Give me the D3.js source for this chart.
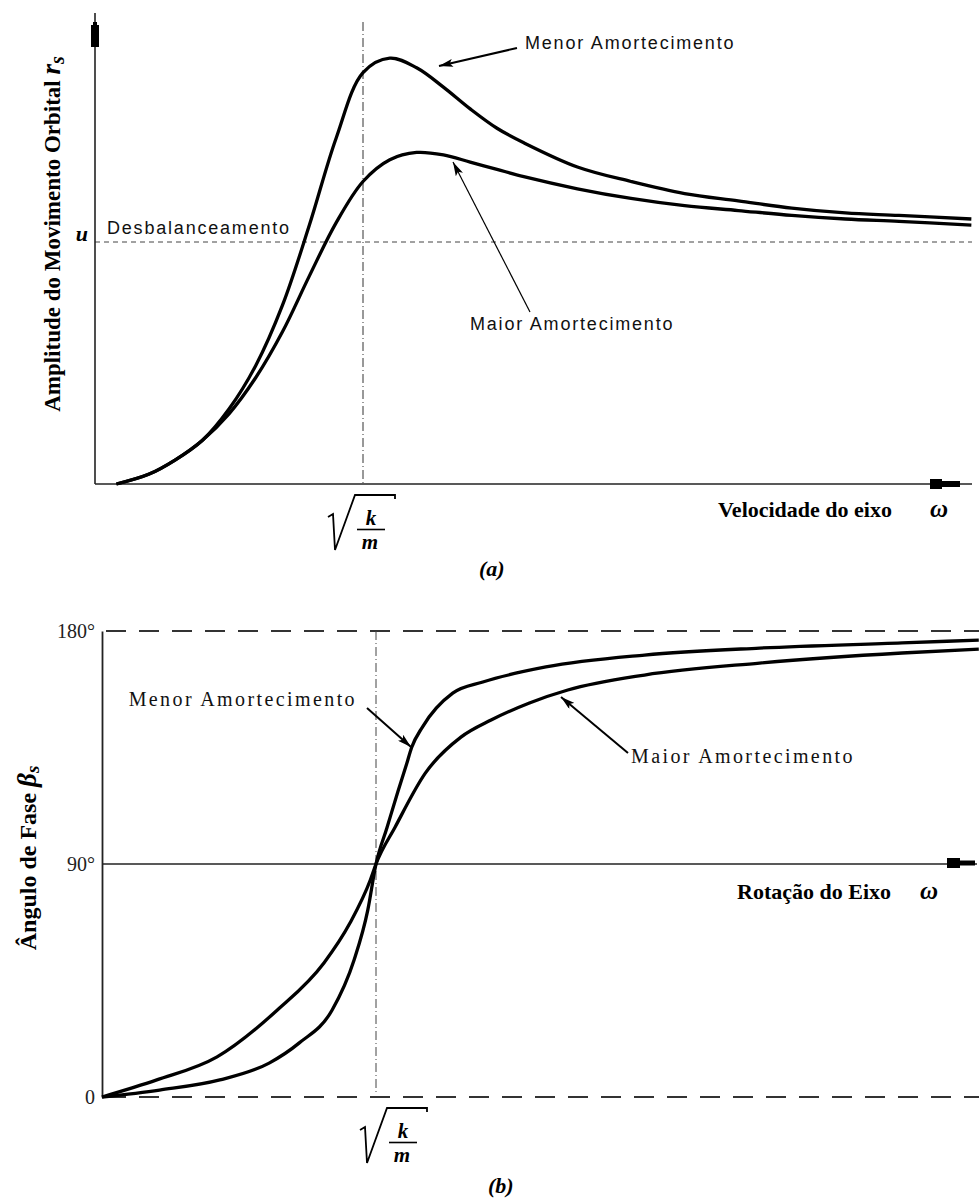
<!DOCTYPE html>
<html>
<head>
<meta charset="utf-8">
<script src="https://cdn.jsdelivr.net/npm/d3@7"></script>
<style>
body { margin: 0; background: #fff; }
svg { display: block; }
</style>
</head>
<body>
<svg id="chart" width="979" height="1198"></svg>
<script>
// (a) amplitude vs shaft speed; speed in units of sqrt(k/m), amplitude in units of u
var omegaA = [0.08, 0.2, 0.3, 0.4, 0.5, 0.6, 0.7, 0.8, 0.9, 1.0, 1.1, 1.2, 1.3, 1.4, 1.5, 1.6, 1.8, 2.0, 2.2, 2.4, 2.6, 2.8, 3.0, 3.27];
var menorA = [0, 0.04, 0.10, 0.18, 0.31, 0.49, 0.74, 1.07, 1.43, 1.70, 1.76, 1.72, 1.64, 1.55, 1.47, 1.41, 1.31, 1.25, 1.20, 1.17, 1.14, 1.12, 1.11, 1.095];
var maiorA = [0, 0.04, 0.10, 0.18, 0.29, 0.44, 0.63, 0.86, 1.08, 1.25, 1.34, 1.37, 1.36, 1.33, 1.30, 1.27, 1.22, 1.18, 1.15, 1.13, 1.11, 1.095, 1.085, 1.07];

// (b) phase angle (degrees) vs shaft rotation
var omegaMenorB = [0, 0.21, 0.43, 0.61, 0.72, 0.84, 0.92, 0.97, 1.0, 1.04, 1.08, 1.11, 1.13, 1.17, 1.28, 1.39, 1.62, 1.98, 2.40, 2.92, 3.2];
var menorB = [0, 2.7, 6.6, 13.1, 20.9, 33.6, 52.9, 72.2, 90, 104, 118, 128, 135, 143, 156, 160.3, 166.1, 170.7, 173.4, 175.4, 176.5];
var omegaMaiorB = [0, 0.2, 0.42, 0.64, 0.81, 0.905, 0.98, 1.0, 1.07, 1.18, 1.31, 1.42, 1.56, 1.70, 1.98, 2.40, 2.92, 3.2];
var maiorB = [0, 6.6, 15.5, 33.6, 51.8, 67.2, 84, 90, 104.3, 125.1, 139, 145.6, 152.2, 157.2, 163, 167.6, 171.5, 173];

var phaseTicks = [0, 90, 180];
var phaseLabels = ["0", "90°", "180°"];

var svg = d3.select("#chart");
var serif = "'Liberation Serif', 'Times New Roman', serif";
var sans = "'Liberation Sans', Arial, sans-serif";

svg.append("rect").attr("width", 979).attr("height", 1198).attr("fill", "#fff");

var defs = svg.append("defs");
defs.append("marker")
	.attr("id", "head")
	.attr("markerUnits", "userSpaceOnUse")
	.attr("viewBox", "0 0 14 8")
	.attr("refX", 14).attr("refY", 4)
	.attr("markerWidth", 15).attr("markerHeight", 8)
	.attr("orient", "auto")
	.append("path").attr("d", "M0,0 L14,4 L0,8 L3,4 Z").attr("fill", "#000");

// ---------------- chart (a) ----------------
var xA = d3.scaleLinear().domain([0, 1]).range([95, 363]);
var yA = d3.scaleLinear().domain([0, 1]).range([484, 242]);
var gA = svg.append("g");

// unbalance level
gA.append("line")
	.attr("x1", xA(0)).attr("x2", 972)
	.attr("y1", yA(1)).attr("y2", yA(1))
	.attr("stroke", "#444").attr("stroke-width", 1)
	.attr("stroke-dasharray", "5,4");

// natural frequency line
gA.append("line")
	.attr("x1", xA(1)).attr("x2", xA(1))
	.attr("y1", 22).attr("y2", yA(0))
	.attr("stroke", "#333").attr("stroke-width", 1)
	.attr("stroke-dasharray", "9,3,1,3");

// axes
gA.append("line").attr("x1", xA(0)).attr("x2", xA(0)).attr("y1", 13).attr("y2", yA(0))
	.attr("stroke", "#222").attr("stroke-width", 1.6);
gA.append("line").attr("x1", xA(0)).attr("x2", 972).attr("y1", yA(0)).attr("y2", yA(0))
	.attr("stroke", "#222").attr("stroke-width", 1.6);
// arrow tails
gA.append("path").attr("d", "M93,22 L97,22 L97,25 L99,25 L99,47 L91,47 L91,25 L93,25 Z").attr("fill", "#000");
gA.append("path").attr("d", "M930,479 L942,479 L942,481 L960,481 L960,487 L942,487 L942,489 L930,489 Z").attr("fill", "#000");

var axA = gA.append("g")
	.attr("transform", "translate(" + xA(0) + ",0)")
	.call(d3.axisLeft(yA).tickValues([1]).tickFormat(function() { return "u"; }).tickSize(0).tickPadding(7));
axA.select(".domain").remove();
axA.selectAll("text")
	.attr("font-family", serif).attr("font-size", 22).attr("font-weight", "bold").attr("font-style", "italic")
	.attr("dy", "-0.05em").attr("fill", "#000");

var lineA = d3.line()
	.x(function(d) { return xA(d[0]); })
	.y(function(d) { return yA(d[1]); })
	.curve(d3.curveCatmullRom.alpha(0.5));

gA.append("path").datum(d3.zip(omegaA, maiorA)).attr("d", lineA)
	.attr("fill", "none").attr("stroke", "#000").attr("stroke-width", 3.3);
gA.append("path").datum(d3.zip(omegaA, menorA)).attr("d", lineA)
	.attr("fill", "none").attr("stroke", "#000").attr("stroke-width", 3.3);

// annotations
gA.append("text").attr("x", 107).attr("y", 234).text("Desbalanceamento")
	.attr("font-family", sans).attr("font-size", 18).attr("letter-spacing", 1.8).attr("fill", "#111");
gA.append("text").attr("x", 525).attr("y", 49).text("Menor Amortecimento")
	.attr("font-family", sans).attr("font-size", 18).attr("letter-spacing", 1.8).attr("fill", "#111");
gA.append("text").attr("x", 470).attr("y", 330).text("Maior Amortecimento")
	.attr("font-family", sans).attr("font-size", 18).attr("letter-spacing", 1.8).attr("fill", "#111");
gA.append("line").attr("x1", 517).attr("y1", 48).attr("x2", 439).attr("y2", 66)
	.attr("stroke", "#000").attr("stroke-width", 2).attr("marker-end", "url(#head)");
gA.append("line").attr("x1", 530).attr("y1", 312).attr("x2", 453).attr("y2", 162)
	.attr("stroke", "#000").attr("stroke-width", 1.2).attr("marker-end", "url(#head)");

// axis titles
var tA = gA.append("text")
	.attr("transform", "translate(60,234) rotate(-90)")
	.attr("text-anchor", "middle")
	.attr("font-family", serif).attr("font-size", 23).attr("font-weight", "bold").attr("fill", "#000");
tA.append("tspan").text("Amplitude do Movimento Orbital ");
tA.append("tspan").text("r").attr("font-style", "italic").attr("font-size", 27);
tA.append("tspan").text("s").attr("font-style", "italic").attr("font-size", 20).attr("dy", 4);

gA.append("text").attr("x", 718).attr("y", 517).text("Velocidade do eixo")
	.attr("font-family", serif).attr("font-size", 22).attr("font-weight", "bold").attr("fill", "#000");
gA.append("text").attr("x", 930).attr("y", 517).text("ω")
	.attr("font-family", serif).attr("font-size", 25).attr("font-weight", "bold").attr("font-style", "italic").attr("fill", "#000");
gA.append("text").attr("x", 479).attr("y", 576).text("(a)")
	.attr("font-family", serif).attr("font-size", 22).attr("font-weight", "bold").attr("font-style", "italic").attr("fill", "#000");

// sqrt(k/m) label
function sqrtLabel(g, cx, cy, dx) {
	var s = g.append("g").attr("transform", "translate(" + (cx + dx) + "," + cy + ")");
	s.append("path").attr("d", "M-35,33 L-30,30 L-28,66 L-8,11 L32,11 L32,15")
		.attr("fill", "none").attr("stroke", "#000").attr("stroke-width", 1.8).attr("stroke-linejoin", "miter");
	s.append("text").attr("x", 8).attr("y", 40.5).attr("text-anchor", "middle").text("k")
		.attr("font-family", serif).attr("font-size", 21).attr("font-weight", "bold").attr("font-style", "italic");
	s.append("line").attr("x1", -6).attr("x2", 22).attr("y1", 45.5).attr("y2", 45.5)
		.attr("stroke", "#000").attr("stroke-width", 1.6);
	s.append("text").attr("x", 7).attr("y", 65).attr("text-anchor", "middle").text("m")
		.attr("font-family", serif).attr("font-size", 21).attr("font-weight", "bold").attr("font-style", "italic");
}
sqrtLabel(gA, xA(1), yA(0), 0);

// ---------------- chart (b) ----------------
var xB = d3.scaleLinear().domain([0, 1]).range([102, 376]);
var yB = d3.scaleLinear().domain([0, 180]).range([1097, 631]);
var gB = svg.append("g");

// 0 and 180 reference lines
[0, 180].forEach(function(v) {
	gB.append("line")
		.attr("x1", xB(0) + 4).attr("x2", 979)
		.attr("y1", yB(v)).attr("y2", yB(v))
		.attr("stroke", "#333").attr("stroke-width", 2)
		.attr("stroke-dasharray", "20,13");
});
gB.append("line")
	.attr("x1", xB(1)).attr("x2", xB(1))
	.attr("y1", yB(180)).attr("y2", yB(0) - 2)
	.attr("stroke", "#444").attr("stroke-width", 1)
	.attr("stroke-dasharray", "9,3,1,3");

// 90 deg axis line with arrow
gB.append("line").attr("x1", xB(0)).attr("x2", 977).attr("y1", yB(90)).attr("y2", yB(90))
	.attr("stroke", "#222").attr("stroke-width", 1.6);
gB.append("path").attr("d", "M947,858 L960,858 L960,860.5 L975,860.5 L975,865.5 L960,865.5 L960,868 L947,868 Z").attr("fill", "#000");

var axB = gB.append("g")
	.attr("transform", "translate(" + xB(0) + ",0)")
	.call(d3.axisLeft(yB).tickValues(phaseTicks)
		.tickFormat(function(d, i) { return phaseLabels[i]; })
		.tickSize(0).tickSizeOuter(0).tickPadding(7));
axB.select(".domain").attr("stroke", "#222").attr("stroke-width", 1.8);
axB.selectAll("text").attr("font-family", serif).attr("font-size", 20).attr("fill", "#222");

var lineB = d3.line()
	.x(function(d) { return xB(d[0]); })
	.y(function(d) { return yB(d[1]); })
	.curve(d3.curveMonotoneX);

gB.append("path").datum(d3.zip(omegaMaiorB, maiorB)).attr("d", lineB)
	.attr("fill", "none").attr("stroke", "#000").attr("stroke-width", 3.3);
gB.append("path").datum(d3.zip(omegaMenorB, menorB)).attr("d", lineB)
	.attr("fill", "none").attr("stroke", "#000").attr("stroke-width", 3.3);

gB.append("text").attr("x", 357).attr("y", 706).attr("text-anchor", "end").text("Menor Amortecimento")
	.attr("font-family", serif).attr("font-size", 20).attr("letter-spacing", 2.4).attr("fill", "#111");
gB.append("text").attr("x", 631).attr("y", 763).text("Maior Amortecimento")
	.attr("font-family", serif).attr("font-size", 20).attr("letter-spacing", 2.4).attr("fill", "#111");
gB.append("line").attr("x1", 367).attr("y1", 708).attr("x2", 411).attr("y2", 747)
	.attr("stroke", "#000").attr("stroke-width", 2).attr("marker-end", "url(#head)");
gB.append("line").attr("x1", 628).attr("y1", 753).attr("x2", 561).attr("y2", 697)
	.attr("stroke", "#000").attr("stroke-width", 2).attr("marker-end", "url(#head)");

var tB = gB.append("text")
	.attr("transform", "translate(36,858) rotate(-90)")
	.attr("text-anchor", "middle")
	.attr("font-family", serif).attr("font-size", 24).attr("font-weight", "bold").attr("fill", "#000");
tB.append("tspan").text("Ângulo de Fase ");
tB.append("tspan").text("β").attr("font-style", "italic").attr("font-size", 27);
tB.append("tspan").text("s").attr("font-style", "italic").attr("font-size", 19).attr("dy", 3);

gB.append("text").attr("x", 737).attr("y", 899).text("Rotação do Eixo")
	.attr("font-family", serif).attr("font-size", 22).attr("font-weight", "bold").attr("fill", "#000");
gB.append("text").attr("x", 920).attr("y", 899).text("ω")
	.attr("font-family", serif).attr("font-size", 25).attr("font-weight", "bold").attr("font-style", "italic").attr("fill", "#000");
gB.append("text").attr("x", 488).attr("y", 1193).text("(b)")
	.attr("font-family", serif).attr("font-size", 22).attr("font-weight", "bold").attr("font-style", "italic").attr("fill", "#000");

sqrtLabel(gB, xB(1), yB(0), 19);
</script>
</body>
</html>
